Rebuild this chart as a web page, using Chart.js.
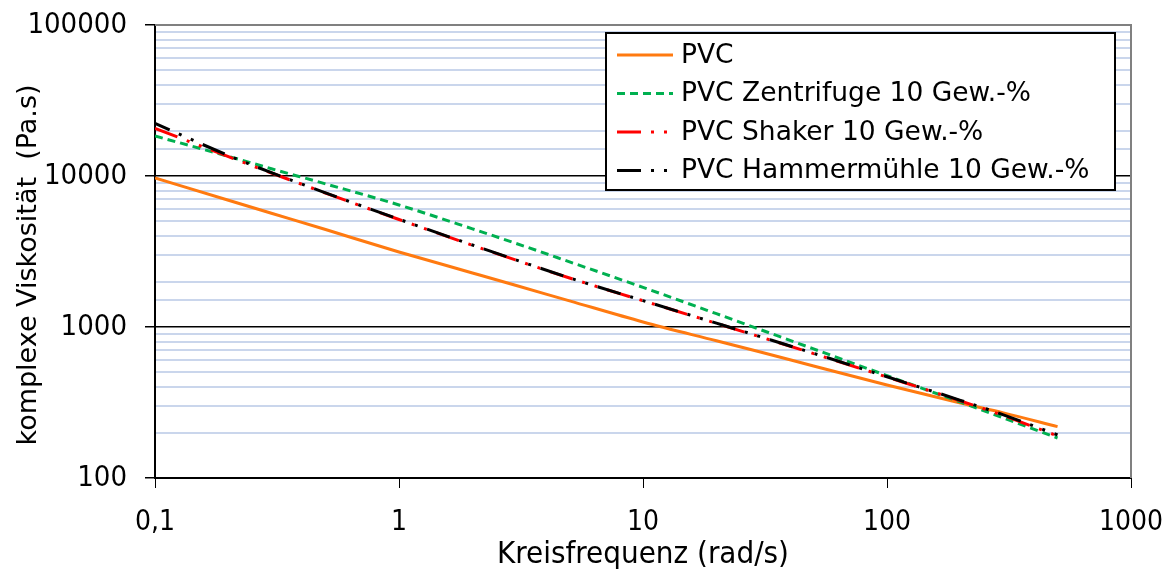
<!DOCTYPE html>
<html>
<head>
<meta charset="utf-8">
<script src="https://cdn.jsdelivr.net/npm/chart.js@4/dist/chart.umd.min.js"></script>
<style>
  html, body { margin: 0; padding: 0; background: #fff; }
  #wrap { width: 1176px; height: 574px; }
</style>
</head>
<body>
<div id="wrap"><canvas id="c" width="1176" height="574"></canvas></div>
<script>
// Werte (log-log Diagramm)
const freq = [0.1, 0.2, 0.3, 0.5, 1, 2, 3, 5, 10, 20, 30, 50, 100, 200, 300, 500];
const pvc = [9700, 6910, 5670, 4420, 3140, 2280, 1890, 1490, 1080, 810, 685, 552, 413, 314, 270, 219];
const zentrifuge = [18400, 13490, 11170, 8870, 6430, 4470, 3590, 2700, 1830, 1225, 966, 716, 476, 318, 250, 184];
const shaker = [20700, 13430, 10470, 7710, 5150, 3475, 2780, 2110, 1493, 1057, 863, 667, 466, 324, 259, 190];
const hammer = [22300, 13650, 10520, 7740, 5170, 3490, 2790, 2115, 1496, 1060, 866, 670, 468, 327, 262, 193];

const seriesNames = ["PVC", "PVC Zentrifuge 10 Gew.-%", "PVC Shaker 10 Gew.-%", "PVC Hammermühle 10 Gew.-%"];
const xTickLabels = ["0,1", "1", "10", "100", "1000"];
const yTickLabels = ["100", "1000", "10000", "100000"];
const yTitle = "komplexe Viskosität  (Pa.s)";

const isMajor = v => Math.abs(Math.log10(v) - Math.round(Math.log10(v))) < 1e-6;
const pts = ys => freq.map((x, i) => ({ x: x, y: ys[i] }));

const dashDotDot = [24, 10, 3, 10, 3, 10];

// Rahmen oben/rechts, y-Titel und Legende im Diagramm
const framePlugin = {
  id: "frame",
  beforeDatasetsDraw(chart) {
    const a = chart.chartArea, g = chart.ctx;
    g.save();
    g.strokeStyle = "#808080";
    g.lineWidth = 2;
    g.beginPath();
    g.moveTo(a.left, a.top);
    g.lineTo(a.right, a.top);
    g.lineTo(a.right, a.bottom);
    g.stroke();
    g.restore();
  },
  afterDraw(chart) {
    const a = chart.chartArea, g = chart.ctx;
    g.save();
    // y-Achsentitel
    g.translate(29, 265);
    g.rotate(-Math.PI / 2);
    g.font = "27px 'DejaVu Sans', Verdana, sans-serif";
    g.fillStyle = "#000";
    g.textAlign = "center";
    g.textBaseline = "middle";
    g.fillText(yTitle, 0, 0);
    g.restore();

    const bx = a.right - 16, by = a.top + 8;
    const left = 606, w = bx - left, h = 157;
    g.save();
    g.fillStyle = "#fff";
    g.fillRect(left, by, w, h);
    g.strokeStyle = "#000";
    g.lineWidth = 2;
    g.strokeRect(left, by, w, h);
    g.font = "26.5px 'DejaVu Sans', Verdana, sans-serif";
    g.textBaseline = "middle";
    g.fillStyle = "#000";
    chart.data.datasets.forEach((ds, i) => {
      const y = by + 22 + i * 38.5;
      g.strokeStyle = ds.borderColor;
      g.lineWidth = 3;
      g.setLineDash(ds.borderDash || []);
      g.beginPath();
      g.moveTo(617, y);
      g.lineTo(673, y);
      g.stroke();
      g.setLineDash([]);
      g.fillText(ds.label, 681, y + 1);
    });
    g.restore();
  }
};

new Chart(document.getElementById("c"), {
  type: "line",
  data: {
    datasets: [
      { label: seriesNames[0], data: pts(pvc), borderColor: "#ff7a10", borderWidth: 3, order: 4 },
      { label: seriesNames[1], data: pts(zentrifuge), borderColor: "#00b050", borderWidth: 3, borderDash: [8, 5], order: 3 },
      { label: seriesNames[2], data: pts(shaker), borderColor: "#ff0000", borderWidth: 3, borderDash: dashDotDot, order: 2 },
      { label: seriesNames[3], data: pts(hammer), borderColor: "#000000", borderWidth: 3, borderDash: dashDotDot, borderDashOffset: 8, order: 1 }
    ]
  },
  options: {
    responsive: false,
    animation: false,
    cubicInterpolationMode: "monotone",
    pointRadius: 0,
    layout: { padding: { top: 25, right: 45, left: 0, bottom: 0 } },
    plugins: { legend: { display: false }, tooltip: { enabled: false } },
    scales: {
      x: {
        type: "logarithmic",
        min: 0.1,
        max: 1000,
        afterFit(s) { s.height = 96; s.paddingLeft = 0; s.paddingRight = 0; },
        border: { color: "#000", width: 2 },
        grid: {
          drawOnChartArea: false,
          tickLength: 10,
          tickColor: c => isMajor(c.tick.value) ? "#000" : "transparent"
        },
        ticks: {
          autoSkip: false,
          maxRotation: 0,
          padding: 18,
          color: "#000",
          font: { family: "'DejaVu Sans Condensed', 'DejaVu Sans', sans-serif", size: 28 },
          callback: v => isMajor(v) ? xTickLabels[Math.round(Math.log10(v)) + 1] : ""
        },
        title: {
          display: true,
          text: "Kreisfrequenz (rad/s)",
          color: "#000",
          font: { family: "'DejaVu Sans Condensed', 'DejaVu Sans', sans-serif", size: 31 },
          padding: 0
        }
      },
      y: {
        type: "logarithmic",
        min: 100,
        max: 100000,
        afterFit(s) { s.width = 155; s.paddingTop = 0; s.paddingBottom = 0; },
        border: { color: "#000", width: 2 },
        grid: {
          tickLength: 10,
          lineWidth: c => isMajor(c.tick.value) ? 1.5 : 2,
          color: c => c.tick.value >= 100000 ? "#808080" : (isMajor(c.tick.value) ? "#000" : "#cad6ec"),
          tickColor: c => isMajor(c.tick.value) ? "#000" : "transparent"
        },
        ticks: {
          autoSkip: false,
          padding: 18,
          color: "#000",
          font: { family: "'DejaVu Sans Condensed', 'DejaVu Sans', sans-serif", size: 29 },
          callback: v => isMajor(v) ? yTickLabels[Math.round(Math.log10(v)) - 2] : ""
        }
      }
    }
  },
  plugins: [framePlugin]
});
</script>
</body>
</html>
